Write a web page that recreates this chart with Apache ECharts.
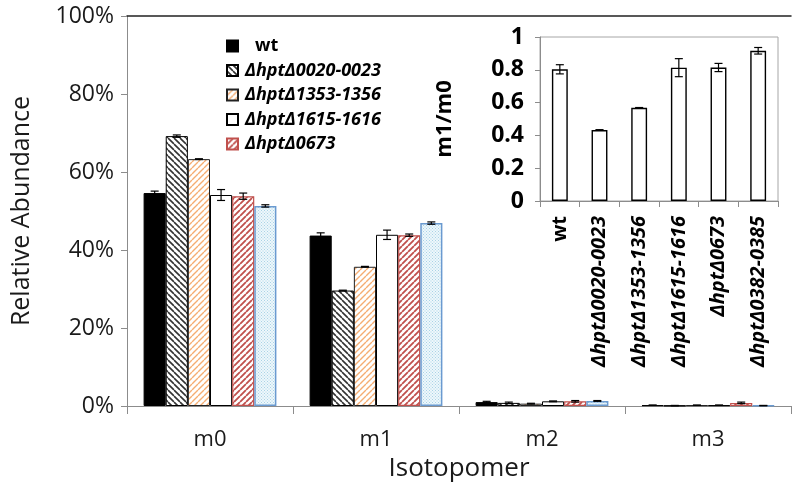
<!DOCTYPE html>
<html>
<head>
<meta charset="utf-8">
<script src="https://cdn.jsdelivr.net/npm/echarts@6/dist/echarts.min.js"></script>
<style>html,body{margin:0;padding:0;background:#fff;}#c{width:796px;height:487px;}</style>
</head>
<body>
<div id="c"></div>
<script>
// ---------- data ----------
const categories = ['m0', 'm1', 'm2', 'm3'];
const strainNames = ['wt', 'ΔhptΔ0020-0023', 'ΔhptΔ1353-1356', 'ΔhptΔ1615-1616', 'ΔhptΔ0673', 'ΔhptΔ0382-0385'];
const wtVals    = [0.546, 0.437, 0.010, 0.002];
const d0020Vals = [0.692, 0.296, 0.008, 0.001];
const d1353Vals = [0.633, 0.357, 0.006, 0.002];
const d1615Vals = [0.541, 0.439, 0.012, 0.002];
const d0673Vals = [0.538, 0.438, 0.012, 0.008];
const d0382Vals = [0.513, 0.469, 0.013, 0.001];
const wtErr    = [0.005, 0.007, 0.002, 0.0005];
const d0020Err = [0.003, 0.001, 0.002, 0.0005];
const d1353Err = [0.001, 0.001, 0.001, 0.0005];
const d1615Err = [0.014, 0.012, 0.001, 0.0005];
const d0673Err = [0.008, 0.003, 0.002, 0.002];
const d0382Err = [0.003, 0.003, 0.001, 0.0005];
const yTicks = [0, 0.2, 0.4, 0.6, 0.8, 1.0];
const insetCategories = ['wt', 'ΔhptΔ0020-0023', 'ΔhptΔ1353-1356', 'ΔhptΔ1615-1616', 'ΔhptΔ0673', 'ΔhptΔ0382-0385'];
const ratioVals = [0.803, 0.433, 0.568, 0.813, 0.814, 0.916];
const ratioErr  = [0.028, 0.002, 0.002, 0.055, 0.025, 0.020];
const insetTicks = [0, 0.2, 0.4, 0.6, 0.8, 1];

// ---------- patterns ----------
function stripes(fg, dir, s, lw, bg) {
  const c = document.createElement('canvas'); c.width = c.height = s;
  const g = c.getContext('2d');
  g.fillStyle = bg; g.fillRect(0, 0, s, s);
  g.strokeStyle = fg; g.lineWidth = lw; g.beginPath();
  for (const k of [-s, 0, s]) {
    if (dir === '/') { g.moveTo(k, s); g.lineTo(k + s, 0); }
    else { g.moveTo(k, 0); g.lineTo(k + s, s); }
  }
  g.stroke();
  return c;
}
function dots(fg, bg) {
  const c = document.createElement('canvas'); c.width = c.height = 3;
  const g = c.getContext('2d');
  g.fillStyle = bg; g.fillRect(0, 0, 3, 3);
  g.fillStyle = fg; g.fillRect(0, 0, 1, 1); g.fillRect(1.5, 1.5, 1, 1);
  return c;
}
const styles = [
  { color: '#000000', borderColor: '#000000', borderWidth: 1 },
  { color: { image: stripes('#333333', '\\', 6, 1.6, '#ffffff'), repeat: 'repeat' }, borderColor: '#000000', borderWidth: 1 },
  { color: { image: stripes('#f5ad72', '/', 6, 1.4, '#ffffff'), repeat: 'repeat' }, borderColor: '#222222', borderWidth: 1 },
  { color: '#ffffff', borderColor: '#000000', borderWidth: 1 },
  { color: { image: stripes('#c0504d', '/', 6, 1.8, '#ffffff'), repeat: 'repeat' }, borderColor: '#c0504d', borderWidth: 1.2 },
  { color: { image: dots('#a9d3e6', '#eef7fb'), repeat: 'repeat' }, borderColor: '#6a9ad0', borderWidth: 1.5 }
];
const seriesVals = [wtVals, d0020Vals, d1353Vals, d1615Vals, d0673Vals, d0382Vals];
const seriesErr = [wtErr, d0020Err, d1353Err, d1615Err, d0673Err, d0382Err];

const FONT = '"Open Sans", "DejaVu Sans", sans-serif';
const BAND = 0.8;

function errRender(n, frac, cap) {
  return function (params, api) {
    const cat = api.value(0), s = api.value(1), lo = api.value(2), hi = api.value(3);
    const w = api.size([1, 0])[0];
    const bw = w * frac / n;
    const off = n > 1 ? (-w * frac / 2 + (s + 0.5) * bw) : 0;
    const p1 = api.coord([cat, hi]), p2 = api.coord([cat, lo]);
    const x = p1[0] + off;
    const st = { stroke: '#000', lineWidth: 1.2 };
    return { type: 'group', children: [
      { type: 'line', shape: { x1: x, y1: p1[1], x2: x, y2: p2[1] }, style: st },
      { type: 'line', shape: { x1: x - cap, y1: p1[1], x2: x + cap, y2: p1[1] }, style: st },
      { type: 'line', shape: { x1: x - cap, y1: p2[1], x2: x + cap, y2: p2[1] }, style: st }
    ]};
  };
}

const mainErrData = [];
seriesVals.forEach((vals, s) => vals.forEach((v, c) => {
  mainErrData.push([c, s, v - seriesErr[s][c], v + seriesErr[s][c]]);
}));
const insetErrData = ratioVals.map((v, i) => [i, 0, v - ratioErr[i], v + ratioErr[i]]);

const series = seriesVals.map((vals, s) => ({
  name: strainNames[s], type: 'bar', xAxisIndex: 0, yAxisIndex: 0,
  data: vals, barGap: '0%', barCategoryGap: '20%',
  itemStyle: styles[s], emphasis: { disabled: true }
}));
series.push({
  type: 'custom', xAxisIndex: 0, yAxisIndex: 0, z: 5,
  renderItem: errRender(6, BAND, 4), data: mainErrData, encode: { x: 0, y: 3 }, silent: true
});
series.push({
  name: 'm1/m0', type: 'bar', xAxisIndex: 1, yAxisIndex: 1, data: ratioVals,
  barCategoryGap: '60%', itemStyle: { color: '#ffffff', borderColor: '#000', borderWidth: 1.4 },
  emphasis: { disabled: true }
});
series.push({
  type: 'custom', xAxisIndex: 1, yAxisIndex: 1, z: 5,
  renderItem: errRender(1, 1, 4), data: insetErrData, encode: { x: 0, y: 3 }, silent: true
});

const option = {
  animation: false,
  backgroundColor: '#ffffff',
  textStyle: { fontFamily: FONT },
  legend: {
    orient: 'vertical', left: 221, top: 32, itemGap: 6.5,
    itemWidth: 11, itemHeight: 11, icon: 'rect', selectedMode: false,
    textStyle: { fontFamily: FONT, fontSize: 18, fontWeight: 'bold', fontStyle: 'italic', color: '#000', padding: [0, 0, 0, 2] },
    data: [
      { name: strainNames[0], textStyle: { fontStyle: 'normal', padding: [0, 0, 0, 12] } },
      strainNames[1], strainNames[2], strainNames[3], strainNames[4]
    ]
  },
  grid: [
    { left: 127, top: 16, right: 5, bottom: 81 },
    { left: 540, top: 37, width: 238, height: 164, show: true, borderColor: '#a6a6a6', borderWidth: 1, backgroundColor: 'transparent' }
  ],
  xAxis: [
    {
      type: 'category', gridIndex: 0, data: categories,
      axisLine: { lineStyle: { color: '#8c8c8c', width: 1 } },
      axisTick: { show: true, length: 8, lineStyle: { color: '#8c8c8c' } },
      axisLabel: { fontSize: 22, color: '#1a1a1a', margin: 23, fontFamily: FONT },
      name: 'Isotopomer', nameLocation: 'middle', nameGap: 46,
      nameTextStyle: { fontSize: 26, color: '#1a1a1a', fontFamily: FONT }
    },
    {
      type: 'category', gridIndex: 1, data: insetCategories,
      axisLine: { lineStyle: { color: '#8c8c8c', width: 1 } },
      axisTick: { show: true, length: 6, lineStyle: { color: '#8c8c8c' } },
      axisLabel: {
        rotate: 90, margin: 15, color: '#000', fontFamily: FONT,
        formatter: v => v === 'wt' ? '{n|' + v + '}' : '{i|' + v + '}',
        rich: {
          n: { fontSize: 20, fontWeight: 'bold', fontFamily: FONT, color: '#000' },
          i: { fontSize: 20, fontWeight: 'bold', fontStyle: 'italic', fontFamily: FONT, color: '#000' }
        }
      }
    },
    {
      type: 'category', gridIndex: 0, data: categories, position: 'top',
      axisLine: { lineStyle: { color: '#222222', width: 1.5 } },
      axisTick: { show: false }, axisLabel: { show: false }
    }
  ],
  yAxis: [
    {
      type: 'value', gridIndex: 0, min: yTicks[0], max: yTicks[yTicks.length - 1], interval: 0.2,
      axisLine: { show: true, lineStyle: { color: '#8c8c8c' } },
      axisTick: { show: true, length: 6, lineStyle: { color: '#8c8c8c' } },
      splitLine: { show: false },
      axisLabel: { fontSize: 23, color: '#1a1a1a', margin: 13, fontFamily: FONT, formatter: v => Math.round(v * 100) + '%' },
      name: 'Relative Abundance', nameLocation: 'middle', nameGap: 93,
      nameTextStyle: { fontSize: 25, color: '#1a1a1a', fontFamily: FONT }
    },
    {
      type: 'value', gridIndex: 1, min: insetTicks[0], max: insetTicks[insetTicks.length - 1], interval: 0.2,
      axisLine: { show: true, lineStyle: { color: '#8c8c8c' } },
      axisTick: { show: true, length: 5, lineStyle: { color: '#8c8c8c' } },
      splitLine: { show: false },
      axisLabel: { fontSize: 23, fontWeight: 'bold', color: '#000', margin: 16, fontFamily: FONT,
        formatter: v => (v === 0 || v === 1) ? String(v) : v.toFixed(1) },
      name: 'm1/m0', nameLocation: 'middle', nameGap: 84,
      nameTextStyle: { fontSize: 22, fontWeight: 'bold', color: '#000', fontFamily: FONT }
    }
  ],
  series: series
};
const chart = echarts.init(document.getElementById('c'), null, { renderer: 'canvas' });
chart.setOption(option);
</script>
</body>
</html>
